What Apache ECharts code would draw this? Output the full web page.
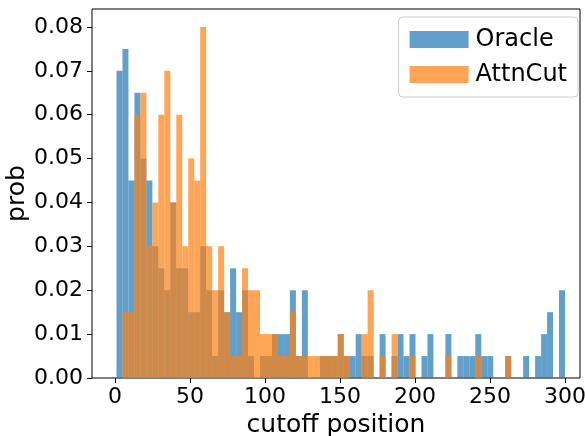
<!DOCTYPE html>
<html>
<head>
<meta charset="utf-8">
<script src="https://cdn.jsdelivr.net/npm/echarts@6/dist/echarts.min.js"></script>
<style>
  html, body { margin: 0; padding: 0; background: #fff; }
  #chart { width: 585px; height: 436px; }
</style>
</head>
<body>
<div id="chart"></div>
<script>
// Histogram bins: 75 equal bins from 1 to 300
const binStart = 1;
const binEnd = 300;
const binCount = 75;

// Probability per bin
const oracle = [
  0.070, 0.075, 0.045, 0.065, 0.050,
  0.045, 0.030, 0.025, 0.020, 0.040,
  0.025, 0.025, 0.015, 0.015, 0.030,
  0.020, 0.005, 0.020, 0.015, 0.025,
  0.015, 0.020, 0.005, 0.000, 0.005,
  0.005, 0.010, 0.010, 0.010, 0.020,
  0.005, 0.020, 0.000, 0.000, 0.005,
  0.005, 0.005, 0.010, 0.005, 0.005,
  0.010, 0.005, 0.005, 0.000, 0.010,
  0.000, 0.005, 0.010, 0.005, 0.010,
  0.000, 0.005, 0.010, 0.000, 0.000,
  0.010, 0.000, 0.005, 0.005, 0.005,
  0.010, 0.005, 0.005, 0.000, 0.000,
  0.005, 0.000, 0.000, 0.005, 0.000,
  0.005, 0.010, 0.015, 0.000, 0.020
];

const attncut = [
  0.000, 0.015, 0.015, 0.060, 0.065,
  0.030, 0.040, 0.060, 0.070, 0.040,
  0.060, 0.030, 0.050, 0.045, 0.080,
  0.030, 0.020, 0.030, 0.015, 0.005,
  0.005, 0.025, 0.020, 0.020, 0.010,
  0.010, 0.010, 0.005, 0.005, 0.015,
  0.005, 0.005, 0.005, 0.005, 0.005,
  0.005, 0.005, 0.010, 0.005, 0.000,
  0.000, 0.010, 0.020, 0.000, 0.005,
  0.000, 0.010, 0.000, 0.000, 0.005,
  0.000, 0.000, 0.000, 0.000, 0.000,
  0.005, 0.000, 0.000, 0.000, 0.000,
  0.005, 0.000, 0.000, 0.000, 0.000,
  0.005, 0.000, 0.000, 0.000, 0.000,
  0.000, 0.000, 0.000, 0.000, 0.000
];

const xTicks = [0, 50, 100, 150, 200, 250, 300];
const yTicks = [0, 0.01, 0.02, 0.03, 0.04, 0.05, 0.06, 0.07, 0.08];

const seriesNames = ['Oracle', 'AttnCut'];
const seriesColors = ['#1f77b4', '#ff7f0e'];

const binWidth = (binEnd - binStart) / binCount;
function toBins(vals) {
  const out = [];
  vals.forEach(function (v, i) {
    if (v > 0) out.push([binStart + i * binWidth, binStart + (i + 1) * binWidth, v]);
  });
  return out;
}

function renderBar(params, api) {
  const x0 = api.value(0), x1 = api.value(1), y = api.value(2);
  const p0 = api.coord([x0, y]);
  const p1 = api.coord([x1, 0]);
  return {
    type: 'rect',
    shape: { x: p0[0], y: p0[1], width: p1[0] - p0[0], height: p1[1] - p0[1] },
    style: api.style()
  };
}

const font = 'DejaVu Sans';
const chart = echarts.init(document.getElementById('chart'), null, { renderer: 'canvas' });

chart.setOption({
  animation: false,
  backgroundColor: '#ffffff',
  grid: {
    left: 92, right: 5, top: 9, bottom: 58,
    show: true, borderColor: '#000', borderWidth: 1, backgroundColor: 'transparent',
    containLabel: false,
    outerBoundsMode: 'none'
  },
  legend: {
    orient: 'vertical',
    right: 7,
    top: 17,
    data: seriesNames.map(function (n) { return { name: n, icon: 'rect' }; }),
    itemWidth: 59,
    itemHeight: 17,
    itemGap: 10,
    padding: [10, 11, 10, 11],
    borderColor: '#cccccc',
    borderWidth: 1,
    borderRadius: 4,
    backgroundColor: 'rgba(255,255,255,0.8)',
    textStyle: { fontFamily: font, fontSize: 24, color: '#000', padding: [0, 0, 0, 2], lineHeight: 25 }
  },
  xAxis: {
    type: 'value',
    min: -15.33,
    max: 310,
    name: 'cutoff position',
    nameLocation: 'middle',
    nameGap: 35,
    nameMoveOverlap: false,
    nameTextStyle: { fontFamily: font, fontSize: 25, color: '#000' },
    axisLine: { show: false, onZero: false },
    splitLine: { show: false },
    axisTick: { show: true, length: 5, lineStyle: { color: '#000', width: 1 }, customValues: xTicks },
    axisLabel: { fontFamily: font, fontSize: 22, color: '#000', margin: 8, customValues: xTicks,
      formatter: function (v) { return String(v); } }
  },
  yAxis: {
    type: 'value',
    min: 0,
    max: 0.0841,
    name: 'prob',
    nameLocation: 'middle',
    nameGap: 62,
    nameMoveOverlap: false,
    nameTextStyle: { fontFamily: font, fontSize: 25, color: '#000' },
    axisLine: { show: false, onZero: false },
    splitLine: { show: false },
    axisTick: { show: true, length: 5, lineStyle: { color: '#000', width: 1 }, customValues: yTicks },
    axisLabel: { fontFamily: font, fontSize: 22, color: '#000', margin: 9, customValues: yTicks,
      formatter: function (v) { return v.toFixed(2); } }
  },
  series: [
    {
      name: seriesNames[0],
      type: 'custom',
      renderItem: renderBar,
      itemStyle: { color: seriesColors[0], opacity: 0.7 },
      encode: { x: [0, 1], y: 2 },
      data: toBins(oracle)
    },
    {
      name: seriesNames[1],
      type: 'custom',
      renderItem: renderBar,
      itemStyle: { color: seriesColors[1], opacity: 0.7 },
      encode: { x: [0, 1], y: 2 },
      data: toBins(attncut)
    }
  ]
});
</script>
</body>
</html>
